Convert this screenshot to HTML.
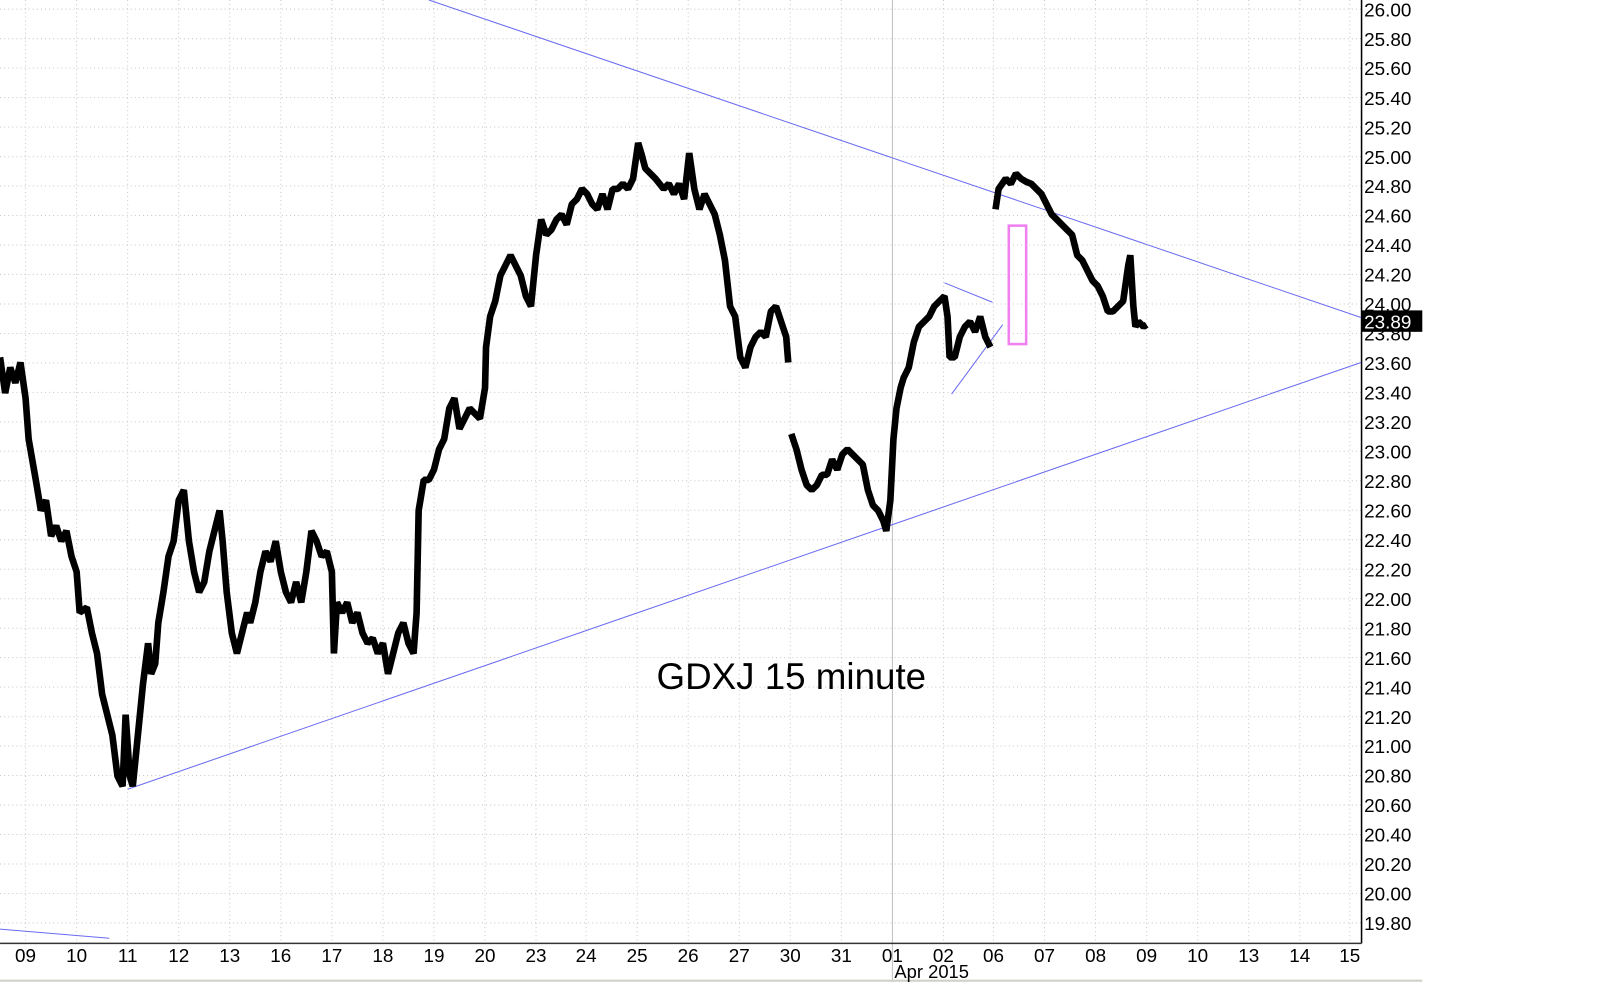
<!DOCTYPE html>
<html><head><meta charset="utf-8"><style>html,body{margin:0;padding:0;background:#fff;}svg{display:block}</style></head>
<body>
<svg width="1600" height="982" viewBox="0 0 1567 961.8" xmlns="http://www.w3.org/2000/svg" font-family="Liberation Sans, Arial, sans-serif">
<rect x="0" y="0" width="1567" height="962" fill="#fff"/>
<g stroke="#c8c8c8" stroke-width="1" stroke-dasharray="1,3">
<line x1="0" y1="9" x2="1333" y2="9"/><line x1="0" y1="37.9" x2="1333" y2="37.9"/><line x1="0" y1="66.7" x2="1333" y2="66.7"/><line x1="0" y1="95.6" x2="1333" y2="95.6"/><line x1="0" y1="124.5" x2="1333" y2="124.5"/><line x1="0" y1="153.4" x2="1333" y2="153.4"/><line x1="0" y1="182.2" x2="1333" y2="182.2"/><line x1="0" y1="211.1" x2="1333" y2="211.1"/><line x1="0" y1="240" x2="1333" y2="240"/><line x1="0" y1="268.8" x2="1333" y2="268.8"/><line x1="0" y1="297.7" x2="1333" y2="297.7"/><line x1="0" y1="326.6" x2="1333" y2="326.6"/><line x1="0" y1="355.4" x2="1333" y2="355.4"/><line x1="0" y1="384.3" x2="1333" y2="384.3"/><line x1="0" y1="413.2" x2="1333" y2="413.2"/><line x1="0" y1="442" x2="1333" y2="442"/><line x1="0" y1="470.9" x2="1333" y2="470.9"/><line x1="0" y1="499.8" x2="1333" y2="499.8"/><line x1="0" y1="528.7" x2="1333" y2="528.7"/><line x1="0" y1="557.5" x2="1333" y2="557.5"/><line x1="0" y1="586.4" x2="1333" y2="586.4"/><line x1="0" y1="615.3" x2="1333" y2="615.3"/><line x1="0" y1="644.1" x2="1333" y2="644.1"/><line x1="0" y1="673" x2="1333" y2="673"/><line x1="0" y1="701.9" x2="1333" y2="701.9"/><line x1="0" y1="730.7" x2="1333" y2="730.7"/><line x1="0" y1="759.6" x2="1333" y2="759.6"/><line x1="0" y1="788.5" x2="1333" y2="788.5"/><line x1="0" y1="817.3" x2="1333" y2="817.3"/><line x1="0" y1="846.2" x2="1333" y2="846.2"/><line x1="0" y1="875.1" x2="1333" y2="875.1"/><line x1="0" y1="903.9" x2="1333" y2="903.9"/>
<line x1="25" y1="0" x2="25" y2="924"/><line x1="75" y1="0" x2="75" y2="924"/><line x1="125" y1="0" x2="125" y2="924"/><line x1="175" y1="0" x2="175" y2="924"/><line x1="225" y1="0" x2="225" y2="924"/><line x1="275" y1="0" x2="275" y2="924"/><line x1="325" y1="0" x2="325" y2="924"/><line x1="375" y1="0" x2="375" y2="924"/><line x1="425" y1="0" x2="425" y2="924"/><line x1="475" y1="0" x2="475" y2="924"/><line x1="525" y1="0" x2="525" y2="924"/><line x1="574" y1="0" x2="574" y2="924"/><line x1="624" y1="0" x2="624" y2="924"/><line x1="674" y1="0" x2="674" y2="924"/><line x1="724" y1="0" x2="724" y2="924"/><line x1="774" y1="0" x2="774" y2="924"/><line x1="824" y1="0" x2="824" y2="924"/><line x1="924" y1="0" x2="924" y2="924"/><line x1="973" y1="0" x2="973" y2="924"/><line x1="1023" y1="0" x2="1023" y2="924"/><line x1="1073" y1="0" x2="1073" y2="924"/><line x1="1123" y1="0" x2="1123" y2="924"/><line x1="1173" y1="0" x2="1173" y2="924"/><line x1="1223" y1="0" x2="1223" y2="924"/><line x1="1273" y1="0" x2="1273" y2="924"/><line x1="1322" y1="0" x2="1322" y2="924"/>
</g>
<line x1="874" y1="0" x2="874" y2="962" stroke="#c0c0c0" stroke-width="1"/>
<line x1="1333.5" y1="0" x2="1333.5" y2="924" stroke="#000" stroke-width="1.5"/>
<line x1="0" y1="924" x2="1333.5" y2="924" stroke="#333" stroke-width="1.5"/>
<line x1="0" y1="960.5" x2="1393" y2="960.5" stroke="#d0d0c8" stroke-width="2"/>
<g stroke="#6a6af0" stroke-width="1" fill="none">
<line x1="420" y1="0" x2="1333" y2="311"/>
<line x1="125" y1="773" x2="1333" y2="355"/>
<line x1="0" y1="910" x2="107" y2="919"/>
<line x1="925" y1="277" x2="972" y2="296"/>
<line x1="932" y1="386" x2="982" y2="318"/>
</g>
<rect x="988" y="221" width="17" height="116" fill="none" stroke="#f080f0" stroke-width="2.5"/>
<g stroke="#000" stroke-width="6.5" fill="none" stroke-linejoin="bevel">
<polyline points="0,350 5,385 10,360 15,375 20,355 25,390 28,430 35,470 40,500 45,490 50,525 55,515 60,530 65,520 70,545 75,560 78,600 85,595 90,620 95,640 100,680 105,700 110,720 115,760 120,770 123,700 127,760 130,770 135,720 140,670 145,630 148,660 152,650 155,610 160,580 165,545 170,530 175,490 180,480 185,530 190,560 195,580 200,570 205,540 210,520 215,500 218,530 222,580 227,620 232,640 237,620 242,600 245,610 250,590 255,560 260,540 265,550 270,530 275,560 280,580 285,590 290,570 295,590 300,560 305,520 310,530 315,545 320,540 325,560 327,640 330,590 335,600 340,590 345,610 350,600 355,620 360,630 365,625 370,640 375,630 380,660 385,640 390,620 395,610 400,630 405,640 408,600 410,500 415,470 420,470 425,460 430,440 435,430 440,400 445,390 450,420 455,410 460,400 465,405 470,410 475,380 476,340 480,310 485,295 490,270 495,260 500,250 505,260 510,270 515,290 520,300 525,250 530,215 535,230 540,225 545,215 550,210 555,220 560,200 565,195 570,185 575,190 580,200 585,205 590,190 595,205 600,185 605,185 610,180 615,185 620,175 625,140 628,150 632,165 637,170 642,175 650,185 655,180 660,190 665,180 670,195 675,150 680,185 685,205 690,190 695,200 700,210 705,230 710,255 715,300 720,310 725,350 730,360 735,340 740,330 745,325 750,330 755,305 760,300 765,315 770,330 772,355"/>
<polyline points="775,425 780,440 785,460 790,475 795,480 800,475 805,465 810,465 815,450 820,460 825,445 830,440 835,445 840,450 845,455 850,480 855,495 860,500 865,510 868,520 872,490 875,430 878,400 882,380 885,370 890,360 895,335 900,320 905,315 910,310 915,300 920,295 925,290 928,310 930,350 935,350 940,330 945,320 950,315 955,325 960,310 965,330 970,340"/>
<polyline points="975,205 978,185 985,175 990,180 995,170 1000,175 1005,178 1010,180 1015,185 1020,190 1025,200 1030,210 1035,215 1040,220 1045,225 1050,230 1055,250 1060,255 1065,265 1070,275 1075,280 1080,290 1085,305 1090,305 1095,300 1100,295 1105,260 1107,250 1110,300 1112,320 1115,315 1120,320 1123,318"/>
</g>
<g font-size="18.5" fill="#000">
<text x="1336" y="16">26.00</text><text x="1336" y="44.9">25.80</text><text x="1336" y="73.7">25.60</text><text x="1336" y="102.6">25.40</text><text x="1336" y="131.5">25.20</text><text x="1336" y="160.4">25.00</text><text x="1336" y="189.2">24.80</text><text x="1336" y="218.1">24.60</text><text x="1336" y="247">24.40</text><text x="1336" y="275.8">24.20</text><text x="1336" y="304.7">24.00</text><text x="1336" y="333.6">23.80</text><text x="1336" y="362.4">23.60</text><text x="1336" y="391.3">23.40</text><text x="1336" y="420.2">23.20</text><text x="1336" y="449">23.00</text><text x="1336" y="477.9">22.80</text><text x="1336" y="506.8">22.60</text><text x="1336" y="535.7">22.40</text><text x="1336" y="564.5">22.20</text><text x="1336" y="593.4">22.00</text><text x="1336" y="622.3">21.80</text><text x="1336" y="651.1">21.60</text><text x="1336" y="680">21.40</text><text x="1336" y="708.9">21.20</text><text x="1336" y="737.7">21.00</text><text x="1336" y="766.6">20.80</text><text x="1336" y="795.5">20.60</text><text x="1336" y="824.3">20.40</text><text x="1336" y="853.2">20.20</text><text x="1336" y="882.1">20.00</text><text x="1336" y="910.9">19.80</text>
</g>
<rect x="1333" y="304" width="60" height="21" fill="#000"/>
<text x="1336" y="321.5" font-size="18.5" fill="#fff">23.89</text>
<g font-size="18.5" fill="#000" text-anchor="middle">
<text x="25" y="942">09</text><text x="75" y="942">10</text><text x="125" y="942">11</text><text x="175" y="942">12</text><text x="225" y="942">13</text><text x="275" y="942">16</text><text x="325" y="942">17</text><text x="375" y="942">18</text><text x="425" y="942">19</text><text x="475" y="942">20</text><text x="525" y="942">23</text><text x="574" y="942">24</text><text x="624" y="942">25</text><text x="674" y="942">26</text><text x="724" y="942">27</text><text x="774" y="942">30</text><text x="824" y="942">31</text><text x="874" y="942">01</text><text x="924" y="942">02</text><text x="973" y="942">06</text><text x="1023" y="942">07</text><text x="1073" y="942">08</text><text x="1123" y="942">09</text><text x="1173" y="942">10</text><text x="1223" y="942">13</text><text x="1273" y="942">14</text><text x="1322" y="942">15</text>
</g>
<text x="876" y="958" font-size="18" fill="#000">Apr 2015</text>
<text x="775" y="675" font-size="36" fill="#000" text-anchor="middle">GDXJ 15 minute</text>
</svg>
</body></html>
